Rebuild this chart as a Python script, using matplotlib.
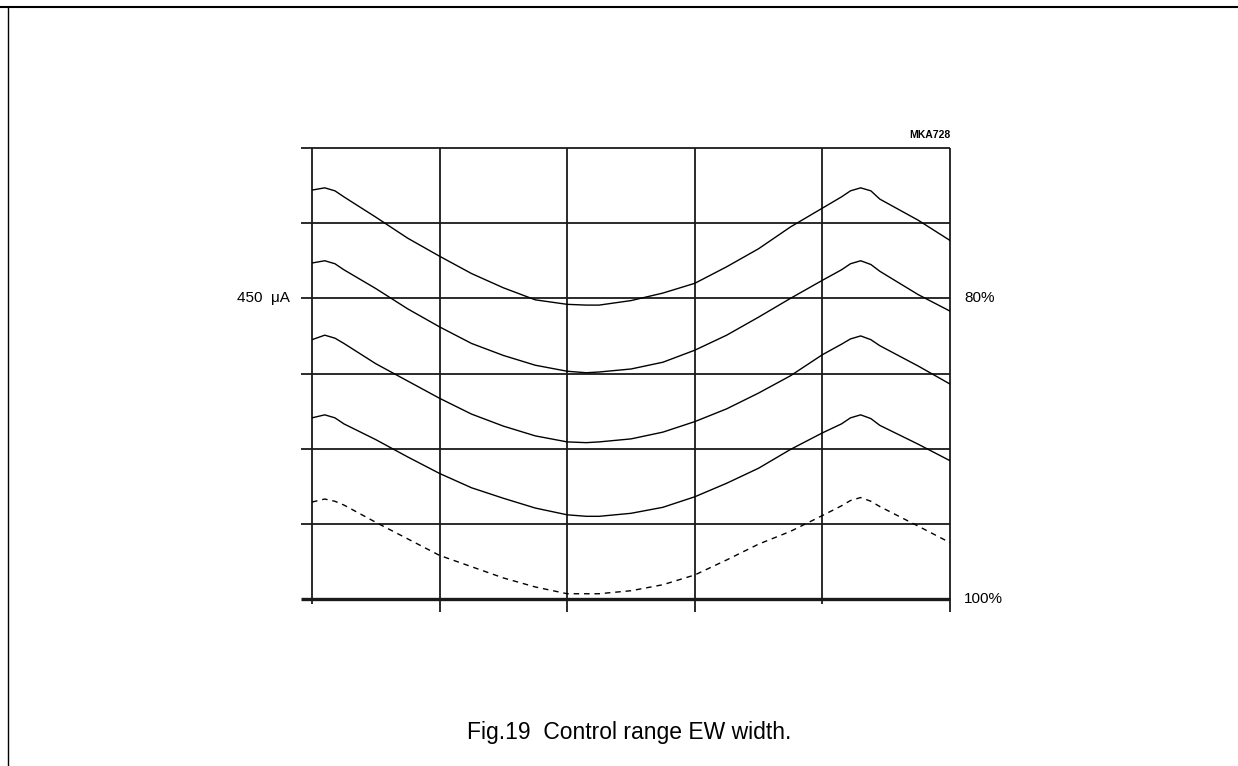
import matplotlib
matplotlib.use('Agg')
import matplotlib.pyplot as plt
from matplotlib.lines import Line2D
import matplotlib.transforms as mtransforms

plt.rcParams['font.family'] = ['Liberation Sans', 'DejaVu Sans']

# horizontal position in grid divisions
x_div = [0, 0.1, 0.18, 0.25, 0.5, 0.75, 1.0, 1.25, 1.5, 1.75, 2.0, 2.15, 2.25,
         2.5, 2.75, 3.0, 3.25, 3.5, 3.75, 4.0, 4.15, 4.22, 4.3, 4.38, 4.45,
         4.75, 5.0]

# curves, in vertical grid divisions (0 = 100 %, 4 = 80 % / 450 uA)
curve_1 = [5.44, 5.47, 5.43, 5.35, 5.08, 4.80, 4.56, 4.33, 4.14, 3.98, 3.92, 3.91,
           3.91, 3.97, 4.07, 4.20, 4.42, 4.66, 4.95, 5.20, 5.35, 5.43, 5.47, 5.43,
           5.32, 5.04, 4.77]
curve_2 = [4.47, 4.50, 4.46, 4.38, 4.13, 3.86, 3.62, 3.40, 3.24, 3.11, 3.03, 3.01,
           3.02, 3.06, 3.15, 3.31, 3.51, 3.75, 4.00, 4.24, 4.38, 4.46, 4.50, 4.45,
           4.36, 4.05, 3.83]
curve_3 = [3.45, 3.51, 3.47, 3.40, 3.13, 2.90, 2.67, 2.46, 2.30, 2.17, 2.09, 2.08,
           2.09, 2.13, 2.22, 2.36, 2.53, 2.74, 2.97, 3.25, 3.39, 3.46, 3.50, 3.45,
           3.37, 3.10, 2.86]
curve_4 = [2.41, 2.45, 2.41, 2.33, 2.12, 1.89, 1.67, 1.48, 1.34, 1.21, 1.12, 1.10,
           1.10, 1.14, 1.22, 1.36, 1.54, 1.74, 1.99, 2.21, 2.33, 2.41, 2.45, 2.40,
           2.31, 2.06, 1.84]
curve_dash = [1.29, 1.33, 1.30, 1.25, 1.02, 0.80, 0.58, 0.43, 0.28, 0.16, 0.07, 0.07,
              0.07, 0.11, 0.19, 0.32, 0.52, 0.73, 0.90, 1.11, 1.24, 1.31, 1.35, 1.30,
              1.23, 0.97, 0.75]

x_grid = [0, 1, 2, 3, 4, 5]
y_grid = [0, 1, 2, 3, 4, 5, 6]
x_tick_len = [5, 13, 13, 13, 5, 13]   # px below bottom line

W, H = 1238, 766
fig = plt.figure(figsize=(W / 100, H / 100), dpi=100)
ax = fig.add_axes([312 / W, (H - 599) / H, 638 / W, 451 / H])
ax.set_xlim(0, 5)
ax.set_ylim(0, 6)
ax.axis('off')

px_x = 5 / 638   # data units per pixel
px_y = 6 / 451
gc = '#1a1a1a'

for y in y_grid:
    lw = 2.4 if y == 0 else 1.3
    ax.plot([-11 * px_x, 5], [y, y], color=gc, lw=lw, clip_on=False,
            solid_capstyle='butt')
for x, tl in zip(x_grid, x_tick_len):
    ax.plot([x, x], [-tl * px_y, 6], color=gc, lw=1.3, clip_on=False,
            solid_capstyle='butt')

for c in [curve_1, curve_2, curve_3, curve_4]:
    ax.plot(x_div, c, color='black', lw=1.0)
ax.plot(x_div, curve_dash, color='black', lw=1.0, dashes=(4, 3.5))

trans = mtransforms.blended_transform_factory(ax.transAxes, ax.transData)
ax.text(-0.0345, 4, '450  \u03bcA', transform=trans, ha='right', va='center',
        fontsize=11)
ax.text(1.022, 4, '80%', transform=trans, ha='left', va='center', fontsize=11)
ax.text(1.022, 0, '100%', transform=trans, ha='left', va='center', fontsize=11)
ax.text(1.0, 1.029, 'MKA728', transform=ax.transAxes, ha='right', va='center',
        fontsize=7.5, fontweight='bold')

fig.text(629 / W, 1 - 733 / H, 'Fig.19  Control range EW width.',
         ha='center', va='center', fontsize=16.5)

# page frame
top = 1 - 7 / H
fig.add_artist(Line2D([0, 1], [top, top], transform=fig.transFigure,
                      color='black', lw=1.5))
fig.add_artist(Line2D([8 / W, 8 / W], [0, top], transform=fig.transFigure,
                      color='black', lw=1.0))

fig.savefig('out.png', dpi=100)
